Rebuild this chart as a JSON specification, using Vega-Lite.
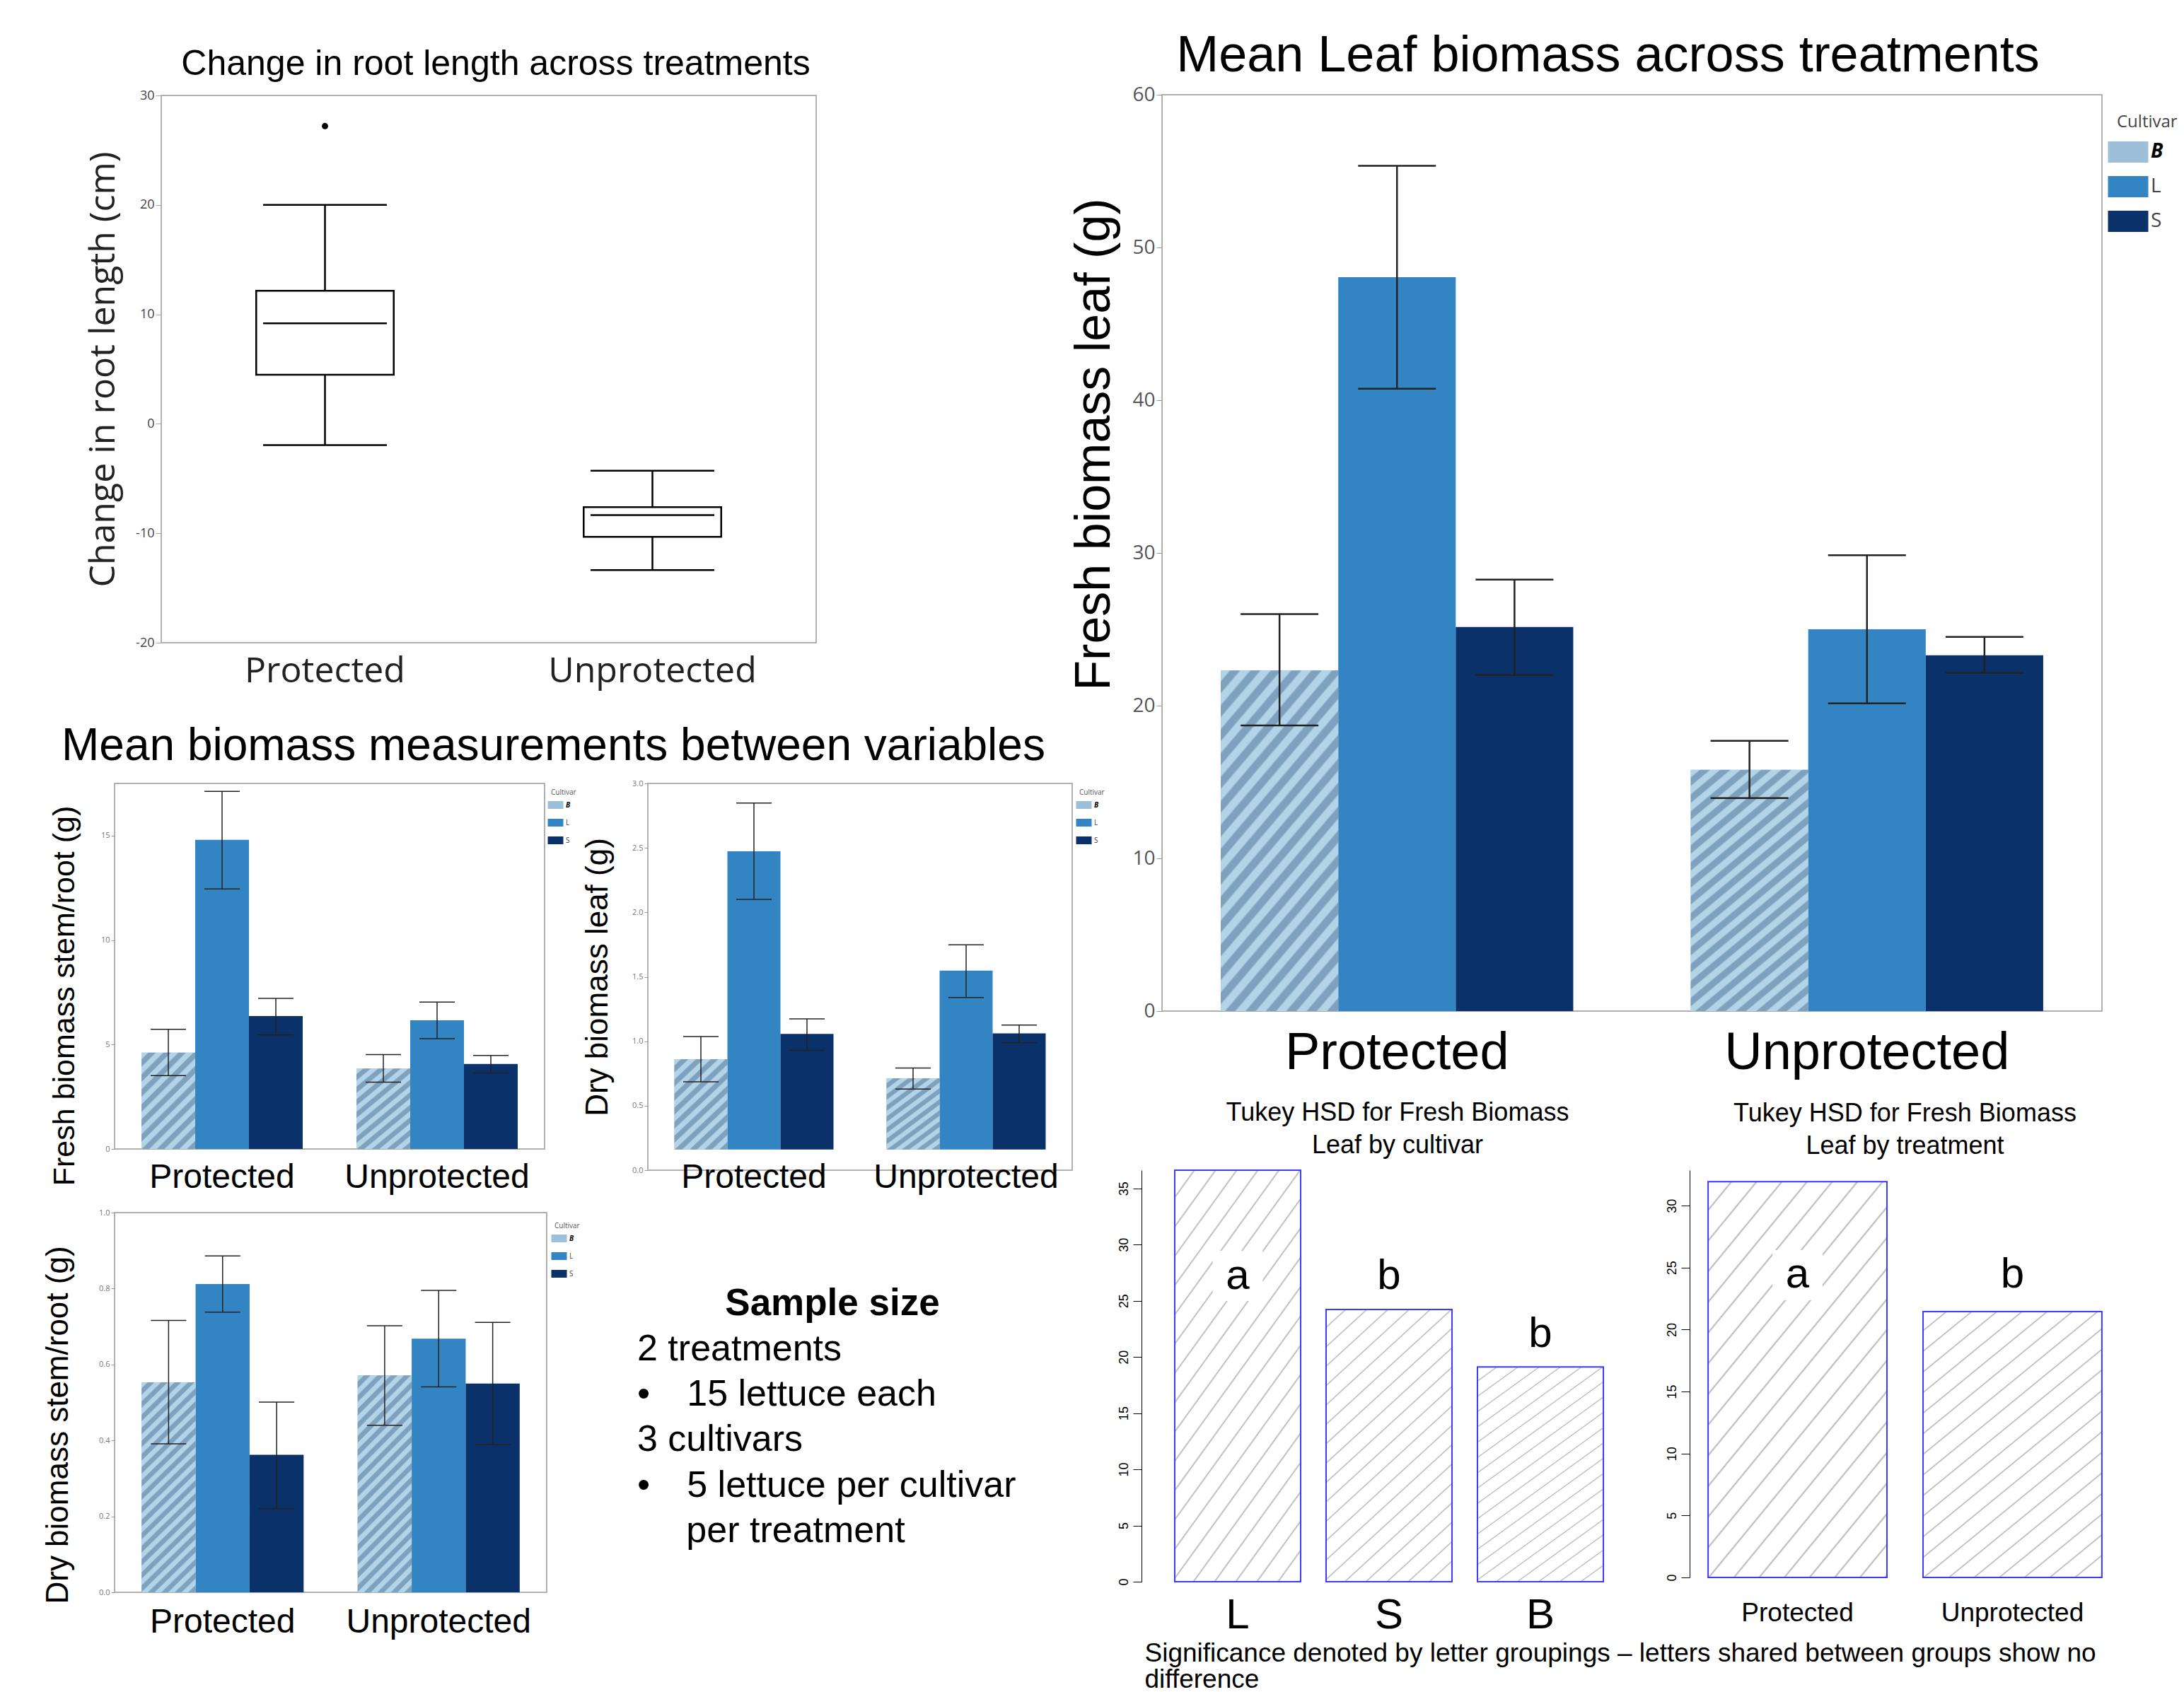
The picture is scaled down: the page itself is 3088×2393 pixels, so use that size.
{
"$schema": "https://vega.github.io/schema/vega-lite/v6.json",
"background": "white",
"padding": {"left": 59, "top": 26, "right": 0, "bottom": 0},
"config": {
 "view": {"stroke": "#b0b0b0", "strokeWidth": 2},
 "font": "Liberation Sans",
 "axis": {"grid": false, "labelLimit": 1000, "labelFont": "Liberation Sans", "titleFont": "Liberation Sans", "titleFontWeight": "normal", "titleColor": "#000000", "tickColor": "#999999", "domainColor": "#999999", "labelColor": "#555555"},
 "title": {"fontWeight": "normal", "color": "#000000", "font": "Liberation Sans"},
 "legend": {"titleFontWeight": "normal"}
},
"datasets": {
 "box": [
  {"treatment": "Protected", "lower": -1.94, "q1": 4.49, "median": 9.19, "q3": 12.15, "upper": 20.0},
  {"treatment": "Unprotected", "lower": -13.36, "q1": -10.32, "median": -8.34, "q3": -7.61, "upper": -4.29}
 ],
 "boxout": [{"treatment": "Protected", "value": 27.2}],
 "leaf": [
  {"treatment": "Protected", "cultivar": "B", "mean": 22.3, "lo": 18.7, "hi": 26.0},
  {"treatment": "Protected", "cultivar": "L", "mean": 48.05, "lo": 40.75, "hi": 55.35},
  {"treatment": "Protected", "cultivar": "S", "mean": 25.15, "lo": 22.0, "hi": 28.25},
  {"treatment": "Unprotected", "cultivar": "B", "mean": 15.8, "lo": 13.95, "hi": 17.7},
  {"treatment": "Unprotected", "cultivar": "L", "mean": 25.0, "lo": 20.15, "hi": 29.85},
  {"treatment": "Unprotected", "cultivar": "S", "mean": 23.3, "lo": 22.15, "hi": 24.5}
 ],
 "fsr": [
  {"treatment": "Protected", "cultivar": "B", "mean": 4.61, "lo": 3.51, "hi": 5.73},
  {"treatment": "Protected", "cultivar": "L", "mean": 14.8, "lo": 12.45, "hi": 17.12},
  {"treatment": "Protected", "cultivar": "S", "mean": 6.36, "lo": 5.47, "hi": 7.21},
  {"treatment": "Unprotected", "cultivar": "B", "mean": 3.85, "lo": 3.2, "hi": 4.52},
  {"treatment": "Unprotected", "cultivar": "L", "mean": 6.16, "lo": 5.28, "hi": 7.03},
  {"treatment": "Unprotected", "cultivar": "S", "mean": 4.07, "lo": 3.64, "hi": 4.48}
 ],
 "dl": [
  {"treatment": "Protected", "cultivar": "B", "mean": 0.861, "lo": 0.685, "hi": 1.037},
  {"treatment": "Protected", "cultivar": "L", "mean": 2.474, "lo": 2.1, "hi": 2.848},
  {"treatment": "Protected", "cultivar": "S", "mean": 1.057, "lo": 0.93, "hi": 1.174},
  {"treatment": "Unprotected", "cultivar": "B", "mean": 0.713, "lo": 0.63, "hi": 0.793},
  {"treatment": "Unprotected", "cultivar": "L", "mean": 1.548, "lo": 1.339, "hi": 1.748},
  {"treatment": "Unprotected", "cultivar": "S", "mean": 1.061, "lo": 0.989, "hi": 1.126}
 ],
 "dsr": [
  {"treatment": "Protected", "cultivar": "B", "mean": 0.553, "lo": 0.391, "hi": 0.716},
  {"treatment": "Protected", "cultivar": "L", "mean": 0.812, "lo": 0.738, "hi": 0.886},
  {"treatment": "Protected", "cultivar": "S", "mean": 0.362, "lo": 0.22, "hi": 0.501},
  {"treatment": "Unprotected", "cultivar": "B", "mean": 0.571, "lo": 0.44, "hi": 0.702},
  {"treatment": "Unprotected", "cultivar": "L", "mean": 0.668, "lo": 0.541, "hi": 0.795},
  {"treatment": "Unprotected", "cultivar": "S", "mean": 0.55, "lo": 0.389, "hi": 0.711}
 ],
 "tukey1": [
  {"cultivar": "L", "mean": 36.62, "letter": "a", "letterY": 27.2},
  {"cultivar": "S", "mean": 24.23, "letter": "b", "letterY": 27.2},
  {"cultivar": "B", "mean": 19.12, "letter": "b", "letterY": 22.0}
 ],
 "tukey2": [
  {"treatment": "Protected", "mean": 31.94, "letter": "a", "letterY": 24.4},
  {"treatment": "Unprotected", "mean": 21.45, "letter": "b", "letterY": 24.4}
 ],
 "sample": [
  {"line": 0, "text": "Sample size"},
  {"line": 1, "text": "2 treatments"},
  {"line": 2, "text": "\u2022\u200315 lettuce each"},
  {"line": 3, "text": "3 cultivars"},
  {"line": 4, "text": "\u2022\u20035 lettuce per cultivar"},
  {"line": 5, "text": "\u200b\u2003\u2004per treatment"}
 ],
 "empty": []
},
"columns": 2,
"align": "none",
"spacing": {"column": -52, "row": 0},
"resolve": {"scale": {"color": "independent", "xOffset": "independent"}, "legend": {"color": "independent"}},
"concat": [
 {
  "spacing": -93,
  "resolve": {"scale": {"color": "independent", "xOffset": "independent"}, "legend": {"color": "independent"}},
  "vconcat": [
   {"width": 1, "height": 1, "view": {"stroke": null}, "data": {"name": "empty"}, "mark": "point"},
   {
  "spacing": 48,
  "resolve": {"scale": {"color": "independent", "xOffset": "independent"}, "legend": {"color": "independent"}},
  "vconcat": [
   {
    "bounds": "flush",
    "spacing": 0,
    "hconcat": [
     {"width": 66, "height": 20, "view": {"stroke": null}, "data": {"name": "empty"}, "mark": "point"},
     {
      "width": 926, "height": 774,
      "title": {"text": "Change in root length across treatments", "fontSize": 50, "frame": "group", "anchor": "middle", "dx": 10, "offset": 10},
      "encoding": {"x": {"field": "treatment", "type": "nominal", "scale": {"domain": ["Protected", "Unprotected"]}, "axis": {"title": null, "labelFont": "Open Sans", "labelFontSize": 50, "labelColor": "#222222", "labelAngle": 0, "ticks": false, "domain": false, "labelPadding": 15}}},
      "layer": [
       {"data": {"name": "box"}, "mark": {"type": "rule", "color": "#000000", "strokeWidth": 2.5},
        "encoding": {"y": {"field": "lower", "type": "quantitative", "scale": {"domain": [-20, 30], "nice": false}, "axis": {"title": "Change in root length (cm)", "titleFont": "Open Sans", "titleFontSize": 50, "titleColor": "#222222", "titlePadding": 20, "values": [-20, -10, 0, 10, 20, 30], "labelExpr": "replace(datum.label, '\u2212', '-')", "labelFont": "Open Sans", "labelFontSize": 18, "labelColor": "#444444", "tickSize": 8, "tickColor": "#aaaaaa", "domain": false}}, "y2": {"field": "upper"}}},
       {"data": {"name": "box"}, "mark": {"type": "bar", "width": {"band": 0.42}, "fill": "#ffffff", "stroke": "#000000", "strokeWidth": 2.5},
        "encoding": {"y": {"field": "q1", "type": "quantitative"}, "y2": {"field": "q3"}}},
       {"data": {"name": "box"}, "mark": {"type": "tick", "size": 175, "thickness": 2.5, "color": "#000000", "opacity": 1},
        "encoding": {"y": {"field": "median", "type": "quantitative"}}},
       {"data": {"name": "box"}, "mark": {"type": "tick", "size": 175, "thickness": 2.5, "color": "#000000", "opacity": 1},
        "encoding": {"y": {"field": "lower", "type": "quantitative"}}},
       {"data": {"name": "box"}, "mark": {"type": "tick", "size": 175, "thickness": 2.5, "color": "#000000", "opacity": 1},
        "encoding": {"y": {"field": "upper", "type": "quantitative"}}},
       {"data": {"name": "boxout"}, "mark": {"type": "circle", "size": 80, "color": "#000000", "opacity": 1},
        "encoding": {"y": {"field": "value", "type": "quantitative"}}}
      ]
     }
    ]
   },
   {
    "spacing": 18,
    "resolve": {"scale": {"color": "independent", "xOffset": "independent"}, "legend": {"color": "independent"}},
    "vconcat": [
     {
      "bounds": "flush",
      "spacing": 146,
      "resolve": {"scale": {"color": "independent", "xOffset": "independent"}, "legend": {"color": "independent"}},
      "hconcat": [
       {
        "width": 608, "height": 517,
        "title": {"text": "Mean biomass measurements between variables", "fontSize": 64, "frame": "group", "anchor": "start", "dx": -75, "offset": 20},
        "data": {"name": "fsr"},
        "encoding": {
         "x": {"field": "treatment", "type": "nominal", "scale": {"paddingInner": 0.25, "paddingOuter": 0.125}, "axis": {"title": null, "labelFontSize": 48, "labelColor": "#000000", "labelAngle": 0, "ticks": false, "domain": false, "labelPadding": 16}},
         "xOffset": {"field": "cultivar", "type": "nominal", "scale": {"domain": ["B", "L", "S"]}}
        },
        "layer": [
         {"mark": {"type": "bar"}, "encoding": {
          "y": {"field": "mean", "type": "quantitative", "scale": {"domain": [0, 17.5], "nice": false}, "axis": {"title": "Fresh biomass stem/root (g)", "titleFontSize": 43, "titlePadding": 29, "titleY": 300, "values": [0, 5, 10, 15], "labelFont": "Open Sans", "labelFontSize": 11, "labelColor": "#777777", "tickSize": 5, "domain": false}},
          "color": {"field": "cultivar", "type": "nominal", "scale": {"domain": ["B", "L", "S"], "range": ["#9dbfd9", "#3384c3", "#0b316b"]},
           "legend": {"orient": "none", "legendX": 617, "legendY": 8, "title": "Cultivar", "titleFont": "Open Sans", "titleFontSize": 10, "titleColor": "#555555", "titlePadding": 6, "labelFont": "Open Sans", "labelFontSize": 10, "labelColor": "#444444", "symbolType": "M-2,-1H2V1H-2Z", "symbolSize": 121, "labelOffset": 8, "rowPadding": 8, "padding": 0,
            "encode": {"symbols": {"update": {"fill": [{"test": "datum.value === 'B'", "value": {"gradient": "linear", "x1": 0, "y1": 0, "x2": 1.2, "y2": 0.6, "stops": [{"offset": 0, "color": "#b3d3e9"}, {"offset": 0.133, "color": "#b3d3e9"}, {"offset": 0.167, "color": "#7ea1be"}, {"offset": 0.3, "color": "#7ea1be"}, {"offset": 0.333, "color": "#b3d3e9"}, {"offset": 0.467, "color": "#b3d3e9"}, {"offset": 0.5, "color": "#7ea1be"}, {"offset": 0.633, "color": "#7ea1be"}, {"offset": 0.667, "color": "#b3d3e9"}, {"offset": 0.8, "color": "#b3d3e9"}, {"offset": 0.833, "color": "#7ea1be"}, {"offset": 0.967, "color": "#7ea1be"}, {"offset": 1, "color": "#b3d3e9"}]}}, {"test": "datum.value === 'L'", "value": "#3384c3"}, {"value": "#0b316b"}], "opacity": {"value": 1}}},
             "labels": {"update": {"fontWeight": [{"test": "datum.value === 'B'", "value": "bold"}, {"value": "normal"}], "fontStyle": [{"test": "datum.value === 'B'", "value": "italic"}, {"value": "normal"}], "fill": [{"test": "datum.value === 'B'", "value": "#000000"}, {"value": "#444444"}]}}}}}}},
         {"transform": [{"filter": "datum.cultivar === 'B'"}], "mark": {"type": "bar", "fill": {"gradient": "linear", "x1": 0, "y1": 0, "x2": 0.66, "y2": 1.189, "stops": [{"offset": 0, "color": "#b3d3e9"}, {"offset": 0.04, "color": "#b3d3e9"}, {"offset": 0.05, "color": "#7ea1be"}, {"offset": 0.09, "color": "#7ea1be"}, {"offset": 0.1, "color": "#b3d3e9"}, {"offset": 0.14, "color": "#b3d3e9"}, {"offset": 0.15, "color": "#7ea1be"}, {"offset": 0.19, "color": "#7ea1be"}, {"offset": 0.2, "color": "#b3d3e9"}, {"offset": 0.24, "color": "#b3d3e9"}, {"offset": 0.25, "color": "#7ea1be"}, {"offset": 0.29, "color": "#7ea1be"}, {"offset": 0.3, "color": "#b3d3e9"}, {"offset": 0.34, "color": "#b3d3e9"}, {"offset": 0.35, "color": "#7ea1be"}, {"offset": 0.39, "color": "#7ea1be"}, {"offset": 0.4, "color": "#b3d3e9"}, {"offset": 0.44, "color": "#b3d3e9"}, {"offset": 0.45, "color": "#7ea1be"}, {"offset": 0.49, "color": "#7ea1be"}, {"offset": 0.5, "color": "#b3d3e9"}, {"offset": 0.54, "color": "#b3d3e9"}, {"offset": 0.55, "color": "#7ea1be"}, {"offset": 0.59, "color": "#7ea1be"}, {"offset": 0.6, "color": "#b3d3e9"}, {"offset": 0.64, "color": "#b3d3e9"}, {"offset": 0.65, "color": "#7ea1be"}, {"offset": 0.69, "color": "#7ea1be"}, {"offset": 0.7, "color": "#b3d3e9"}, {"offset": 0.74, "color": "#b3d3e9"}, {"offset": 0.75, "color": "#7ea1be"}, {"offset": 0.79, "color": "#7ea1be"}, {"offset": 0.8, "color": "#b3d3e9"}, {"offset": 0.84, "color": "#b3d3e9"}, {"offset": 0.85, "color": "#7ea1be"}, {"offset": 0.89, "color": "#7ea1be"}, {"offset": 0.9, "color": "#b3d3e9"}, {"offset": 0.94, "color": "#b3d3e9"}, {"offset": 0.95, "color": "#7ea1be"}, {"offset": 0.99, "color": "#7ea1be"}, {"offset": 1, "color": "#b3d3e9"}]}},
          "encoding": {"y": {"field": "mean", "type": "quantitative"}}},
         {"mark": {"type": "rule", "color": "#222222", "strokeWidth": 1.5}, "encoding": {"y": {"field": "lo", "type": "quantitative"}, "y2": {"field": "hi"}}},
         {"mark": {"type": "tick", "size": 50, "thickness": 1.5, "color": "#222222", "opacity": 1}, "encoding": {"y": {"field": "lo", "type": "quantitative"}}},
         {"mark": {"type": "tick", "size": 50, "thickness": 1.5, "color": "#222222", "opacity": 1}, "encoding": {"y": {"field": "hi", "type": "quantitative"}}}
        ]
       },
       {
        "width": 600, "height": 547,
        "data": {"name": "dl"},
        "encoding": {
         "x": {"field": "treatment", "type": "nominal", "scale": {"paddingInner": 0.25, "paddingOuter": 0.125}, "axis": {"title": null, "labelFontSize": 48, "labelColor": "#000000", "labelAngle": 0, "ticks": false, "domain": false, "labelPadding": -14}},
         "xOffset": {"field": "cultivar", "type": "nominal", "scale": {"domain": ["B", "L", "S"]}}
        },
        "layer": [
         {"mark": {"type": "bar"}, "encoding": {
          "y": {"field": "mean", "type": "quantitative", "scale": {"domain": [0, 3], "nice": false}, "axis": {"title": "Dry biomass leaf (g)", "titleFontSize": 44, "titlePadding": 26, "values": [0, 0.5, 1, 1.5, 2, 2.5, 3], "format": ".1f", "labelFont": "Open Sans", "labelFontSize": 11, "labelColor": "#777777", "tickSize": 5, "domain": false}},
          "y2": {"datum": 0.16},
          "color": {"field": "cultivar", "type": "nominal", "scale": {"domain": ["B", "L", "S"], "range": ["#9dbfd9", "#3384c3", "#0b316b"]},
           "legend": {"orient": "none", "legendX": 610, "legendY": 8, "title": "Cultivar", "titleFont": "Open Sans", "titleFontSize": 10, "titleColor": "#555555", "titlePadding": 6, "labelFont": "Open Sans", "labelFontSize": 10, "labelColor": "#444444", "symbolType": "M-2,-1H2V1H-2Z", "symbolSize": 121, "labelOffset": 8, "rowPadding": 8, "padding": 0,
            "encode": {"symbols": {"update": {"fill": [{"test": "datum.value === 'B'", "value": {"gradient": "linear", "x1": 0, "y1": 0, "x2": 1.2, "y2": 0.6, "stops": [{"offset": 0, "color": "#b3d3e9"}, {"offset": 0.133, "color": "#b3d3e9"}, {"offset": 0.167, "color": "#7ea1be"}, {"offset": 0.3, "color": "#7ea1be"}, {"offset": 0.333, "color": "#b3d3e9"}, {"offset": 0.467, "color": "#b3d3e9"}, {"offset": 0.5, "color": "#7ea1be"}, {"offset": 0.633, "color": "#7ea1be"}, {"offset": 0.667, "color": "#b3d3e9"}, {"offset": 0.8, "color": "#b3d3e9"}, {"offset": 0.833, "color": "#7ea1be"}, {"offset": 0.967, "color": "#7ea1be"}, {"offset": 1, "color": "#b3d3e9"}]}}, {"test": "datum.value === 'L'", "value": "#3384c3"}, {"value": "#0b316b"}], "opacity": {"value": 1}}},
             "labels": {"update": {"fontWeight": [{"test": "datum.value === 'B'", "value": "bold"}, {"value": "normal"}], "fontStyle": [{"test": "datum.value === 'B'", "value": "italic"}, {"value": "normal"}], "fill": [{"test": "datum.value === 'B'", "value": "#000000"}, {"value": "#444444"}]}}}}}}},
         {"transform": [{"filter": "datum.cultivar === 'B'"}], "mark": {"type": "bar", "fill": {"gradient": "linear", "x1": 0, "y1": 0, "x2": 0.66, "y2": 1.189, "stops": [{"offset": 0, "color": "#b3d3e9"}, {"offset": 0.04, "color": "#b3d3e9"}, {"offset": 0.05, "color": "#7ea1be"}, {"offset": 0.09, "color": "#7ea1be"}, {"offset": 0.1, "color": "#b3d3e9"}, {"offset": 0.14, "color": "#b3d3e9"}, {"offset": 0.15, "color": "#7ea1be"}, {"offset": 0.19, "color": "#7ea1be"}, {"offset": 0.2, "color": "#b3d3e9"}, {"offset": 0.24, "color": "#b3d3e9"}, {"offset": 0.25, "color": "#7ea1be"}, {"offset": 0.29, "color": "#7ea1be"}, {"offset": 0.3, "color": "#b3d3e9"}, {"offset": 0.34, "color": "#b3d3e9"}, {"offset": 0.35, "color": "#7ea1be"}, {"offset": 0.39, "color": "#7ea1be"}, {"offset": 0.4, "color": "#b3d3e9"}, {"offset": 0.44, "color": "#b3d3e9"}, {"offset": 0.45, "color": "#7ea1be"}, {"offset": 0.49, "color": "#7ea1be"}, {"offset": 0.5, "color": "#b3d3e9"}, {"offset": 0.54, "color": "#b3d3e9"}, {"offset": 0.55, "color": "#7ea1be"}, {"offset": 0.59, "color": "#7ea1be"}, {"offset": 0.6, "color": "#b3d3e9"}, {"offset": 0.64, "color": "#b3d3e9"}, {"offset": 0.65, "color": "#7ea1be"}, {"offset": 0.69, "color": "#7ea1be"}, {"offset": 0.7, "color": "#b3d3e9"}, {"offset": 0.74, "color": "#b3d3e9"}, {"offset": 0.75, "color": "#7ea1be"}, {"offset": 0.79, "color": "#7ea1be"}, {"offset": 0.8, "color": "#b3d3e9"}, {"offset": 0.84, "color": "#b3d3e9"}, {"offset": 0.85, "color": "#7ea1be"}, {"offset": 0.89, "color": "#7ea1be"}, {"offset": 0.9, "color": "#b3d3e9"}, {"offset": 0.94, "color": "#b3d3e9"}, {"offset": 0.95, "color": "#7ea1be"}, {"offset": 0.99, "color": "#7ea1be"}, {"offset": 1, "color": "#b3d3e9"}]}},
          "encoding": {"y": {"field": "mean", "type": "quantitative"}, "y2": {"datum": 0.16}}},
         {"mark": {"type": "rule", "color": "#222222", "strokeWidth": 1.5}, "encoding": {"y": {"field": "lo", "type": "quantitative"}, "y2": {"field": "hi"}}},
         {"mark": {"type": "tick", "size": 50, "thickness": 1.5, "color": "#222222", "opacity": 1}, "encoding": {"y": {"field": "lo", "type": "quantitative"}}},
         {"mark": {"type": "tick", "size": 50, "thickness": 1.5, "color": "#222222", "opacity": 1}, "encoding": {"y": {"field": "hi", "type": "quantitative"}}}
        ]
       }
      ]
     },
     {
      "bounds": "flush",
      "spacing": 128,
      "resolve": {"scale": {"color": "independent", "xOffset": "independent"}, "legend": {"color": "independent"}},
      "hconcat": [
       {
        "width": 611, "height": 537,
        "data": {"name": "dsr"},
        "encoding": {
         "x": {"field": "treatment", "type": "nominal", "scale": {"paddingInner": 0.25, "paddingOuter": 0.125}, "axis": {"title": null, "labelFontSize": 48, "labelColor": "#000000", "labelAngle": 0, "ticks": false, "domain": false, "labelPadding": 18}},
         "xOffset": {"field": "cultivar", "type": "nominal", "scale": {"domain": ["B", "L", "S"]}}
        },
        "layer": [
         {"mark": {"type": "bar"}, "encoding": {
          "y": {"field": "mean", "type": "quantitative", "scale": {"domain": [0, 1], "nice": false}, "axis": {"title": "Dry biomass stem/root (g)", "titleFontSize": 44, "titlePadding": 35, "titleY": 300, "values": [0, 0.2, 0.4, 0.6, 0.8, 1], "format": ".1f", "labelFont": "Open Sans", "labelFontSize": 11, "labelColor": "#777777", "tickSize": 5, "domain": false}},
          "color": {"field": "cultivar", "type": "nominal", "scale": {"domain": ["B", "L", "S"], "range": ["#9dbfd9", "#3384c3", "#0b316b"]},
           "legend": {"orient": "none", "legendX": 622, "legendY": 14, "title": "Cultivar", "titleFont": "Open Sans", "titleFontSize": 10, "titleColor": "#555555", "titlePadding": 6, "labelFont": "Open Sans", "labelFontSize": 10, "labelColor": "#444444", "symbolType": "M-2,-1H2V1H-2Z", "symbolSize": 121, "labelOffset": 8, "rowPadding": 8, "padding": 0,
            "encode": {"symbols": {"update": {"fill": [{"test": "datum.value === 'B'", "value": {"gradient": "linear", "x1": 0, "y1": 0, "x2": 1.2, "y2": 0.6, "stops": [{"offset": 0, "color": "#b3d3e9"}, {"offset": 0.133, "color": "#b3d3e9"}, {"offset": 0.167, "color": "#7ea1be"}, {"offset": 0.3, "color": "#7ea1be"}, {"offset": 0.333, "color": "#b3d3e9"}, {"offset": 0.467, "color": "#b3d3e9"}, {"offset": 0.5, "color": "#7ea1be"}, {"offset": 0.633, "color": "#7ea1be"}, {"offset": 0.667, "color": "#b3d3e9"}, {"offset": 0.8, "color": "#b3d3e9"}, {"offset": 0.833, "color": "#7ea1be"}, {"offset": 0.967, "color": "#7ea1be"}, {"offset": 1, "color": "#b3d3e9"}]}}, {"test": "datum.value === 'L'", "value": "#3384c3"}, {"value": "#0b316b"}], "opacity": {"value": 1}}},
             "labels": {"update": {"fontWeight": [{"test": "datum.value === 'B'", "value": "bold"}, {"value": "normal"}], "fontStyle": [{"test": "datum.value === 'B'", "value": "italic"}, {"value": "normal"}], "fill": [{"test": "datum.value === 'B'", "value": "#000000"}, {"value": "#444444"}]}}}}}}},
         {"transform": [{"filter": "datum.cultivar === 'B'"}], "mark": {"type": "bar", "fill": {"gradient": "linear", "x1": 0, "y1": 0, "x2": 0.2962, "y2": 1.1772, "stops": [{"offset": 0, "color": "#b3d3e9"}, {"offset": 0.02, "color": "#b3d3e9"}, {"offset": 0.025, "color": "#7ea1be"}, {"offset": 0.045, "color": "#7ea1be"}, {"offset": 0.05, "color": "#b3d3e9"}, {"offset": 0.07, "color": "#b3d3e9"}, {"offset": 0.075, "color": "#7ea1be"}, {"offset": 0.095, "color": "#7ea1be"}, {"offset": 0.1, "color": "#b3d3e9"}, {"offset": 0.12, "color": "#b3d3e9"}, {"offset": 0.125, "color": "#7ea1be"}, {"offset": 0.145, "color": "#7ea1be"}, {"offset": 0.15, "color": "#b3d3e9"}, {"offset": 0.17, "color": "#b3d3e9"}, {"offset": 0.175, "color": "#7ea1be"}, {"offset": 0.195, "color": "#7ea1be"}, {"offset": 0.2, "color": "#b3d3e9"}, {"offset": 0.22, "color": "#b3d3e9"}, {"offset": 0.225, "color": "#7ea1be"}, {"offset": 0.245, "color": "#7ea1be"}, {"offset": 0.25, "color": "#b3d3e9"}, {"offset": 0.27, "color": "#b3d3e9"}, {"offset": 0.275, "color": "#7ea1be"}, {"offset": 0.295, "color": "#7ea1be"}, {"offset": 0.3, "color": "#b3d3e9"}, {"offset": 0.32, "color": "#b3d3e9"}, {"offset": 0.325, "color": "#7ea1be"}, {"offset": 0.345, "color": "#7ea1be"}, {"offset": 0.35, "color": "#b3d3e9"}, {"offset": 0.37, "color": "#b3d3e9"}, {"offset": 0.375, "color": "#7ea1be"}, {"offset": 0.395, "color": "#7ea1be"}, {"offset": 0.4, "color": "#b3d3e9"}, {"offset": 0.42, "color": "#b3d3e9"}, {"offset": 0.425, "color": "#7ea1be"}, {"offset": 0.445, "color": "#7ea1be"}, {"offset": 0.45, "color": "#b3d3e9"}, {"offset": 0.47, "color": "#b3d3e9"}, {"offset": 0.475, "color": "#7ea1be"}, {"offset": 0.495, "color": "#7ea1be"}, {"offset": 0.5, "color": "#b3d3e9"}, {"offset": 0.52, "color": "#b3d3e9"}, {"offset": 0.525, "color": "#7ea1be"}, {"offset": 0.545, "color": "#7ea1be"}, {"offset": 0.55, "color": "#b3d3e9"}, {"offset": 0.57, "color": "#b3d3e9"}, {"offset": 0.575, "color": "#7ea1be"}, {"offset": 0.595, "color": "#7ea1be"}, {"offset": 0.6, "color": "#b3d3e9"}, {"offset": 0.62, "color": "#b3d3e9"}, {"offset": 0.625, "color": "#7ea1be"}, {"offset": 0.645, "color": "#7ea1be"}, {"offset": 0.65, "color": "#b3d3e9"}, {"offset": 0.67, "color": "#b3d3e9"}, {"offset": 0.675, "color": "#7ea1be"}, {"offset": 0.695, "color": "#7ea1be"}, {"offset": 0.7, "color": "#b3d3e9"}, {"offset": 0.72, "color": "#b3d3e9"}, {"offset": 0.725, "color": "#7ea1be"}, {"offset": 0.745, "color": "#7ea1be"}, {"offset": 0.75, "color": "#b3d3e9"}, {"offset": 0.77, "color": "#b3d3e9"}, {"offset": 0.775, "color": "#7ea1be"}, {"offset": 0.795, "color": "#7ea1be"}, {"offset": 0.8, "color": "#b3d3e9"}, {"offset": 0.82, "color": "#b3d3e9"}, {"offset": 0.825, "color": "#7ea1be"}, {"offset": 0.845, "color": "#7ea1be"}, {"offset": 0.85, "color": "#b3d3e9"}, {"offset": 0.87, "color": "#b3d3e9"}, {"offset": 0.875, "color": "#7ea1be"}, {"offset": 0.895, "color": "#7ea1be"}, {"offset": 0.9, "color": "#b3d3e9"}, {"offset": 0.92, "color": "#b3d3e9"}, {"offset": 0.925, "color": "#7ea1be"}, {"offset": 0.945, "color": "#7ea1be"}, {"offset": 0.95, "color": "#b3d3e9"}, {"offset": 0.97, "color": "#b3d3e9"}, {"offset": 0.975, "color": "#7ea1be"}, {"offset": 0.995, "color": "#7ea1be"}, {"offset": 1, "color": "#b3d3e9"}]}},
          "encoding": {"y": {"field": "mean", "type": "quantitative"}}},
         {"mark": {"type": "rule", "color": "#222222", "strokeWidth": 1.5}, "encoding": {"y": {"field": "lo", "type": "quantitative"}, "y2": {"field": "hi"}}},
         {"mark": {"type": "tick", "size": 50, "thickness": 1.5, "color": "#222222", "opacity": 1}, "encoding": {"y": {"field": "lo", "type": "quantitative"}}},
         {"mark": {"type": "tick", "size": 50, "thickness": 1.5, "color": "#222222", "opacity": 1}, "encoding": {"y": {"field": "hi", "type": "quantitative"}}}
        ]
       },
       {
        "width": 552, "height": 450,
        "view": {"stroke": null},
        "data": {"name": "sample"},
        "encoding": {"y": {"field": "line", "type": "ordinal", "scale": {"type": "point", "padding": 1, "align": 1}, "axis": null}},
        "layer": [
         {"transform": [{"filter": "datum.line === 0"}], "mark": {"type": "text", "fontSize": 53, "fontWeight": "bold", "align": "center", "baseline": "middle", "color": "#000000"},
          "encoding": {"x": {"datum": 0.5, "type": "quantitative", "scale": {"domain": [0, 1]}, "axis": null}, "text": {"field": "text"}}},
         {"transform": [{"filter": "datum.line > 0"}], "mark": {"type": "text", "fontSize": 52, "align": "left", "baseline": "middle", "color": "#000000"},
          "encoding": {"x": {"datum": 0, "type": "quantitative", "scale": {"domain": [0, 1]}, "axis": null}, "text": {"field": "text"}}}
        ]
       }
      ]
     }
    ]
   }
  ]
   }
  ]
 },
 {
  "spacing": 29,
  "resolve": {"scale": {"color": "independent", "xOffset": "independent"}, "legend": {"color": "independent"}},
  "vconcat": [
   {
    "width": 1329, "height": 1296,
    "title": {"text": ["", "Mean Leaf biomass across treatments"], "lineHeight": 16, "fontSize": 72, "frame": "group", "anchor": "middle", "dx": -34, "offset": 4},
    "data": {"name": "leaf"},
    "encoding": {
     "x": {"field": "treatment", "type": "nominal", "scale": {"paddingInner": 0.25, "paddingOuter": 0.125}, "axis": {"title": null, "labelFontSize": 74, "labelColor": "#000000", "labelAngle": 0, "ticks": false, "domain": false, "labelPadding": 23}},
     "xOffset": {"field": "cultivar", "type": "nominal", "scale": {"domain": ["B", "L", "S"]}}
    },
    "layer": [
     {"mark": {"type": "bar"}, "encoding": {
      "y": {"field": "mean", "type": "quantitative", "scale": {"domain": [0, 60], "nice": false}, "axis": {"title": "Fresh biomass leaf (g)", "titleFontSize": 70, "titlePadding": 17, "titleY": 494, "values": [0, 10, 20, 30, 40, 50, 60], "labelFont": "Open Sans", "labelFontSize": 28, "labelColor": "#555555", "tickSize": 8, "domain": false}},
      "color": {"field": "cultivar", "type": "nominal", "scale": {"domain": ["B", "L", "S"], "range": ["#9dbfd9", "#3384c3", "#0b316b"]},
       "legend": {"orient": "none", "legendX": 1350, "legendY": 27, "title": "Cultivar", "titleFont": "Open Sans", "titleFontSize": 24, "titleColor": "#444444", "titlePadding": 14, "labelFont": "Open Sans", "labelFontSize": 28, "labelColor": "#444444", "symbolType": "M-1.9,-1H1.9V1H-1.9Z", "symbolSize": 900, "labelOffset": 16, "rowPadding": 13, "padding": 0,
        "encode": {"symbols": {"update": {"fill": [{"test": "datum.value === 'B'", "value": {"gradient": "linear", "x1": 0, "y1": 0, "x2": 1.2, "y2": 0.6, "stops": [{"offset": 0, "color": "#b3d3e9"}, {"offset": 0.133, "color": "#b3d3e9"}, {"offset": 0.167, "color": "#7ea1be"}, {"offset": 0.3, "color": "#7ea1be"}, {"offset": 0.333, "color": "#b3d3e9"}, {"offset": 0.467, "color": "#b3d3e9"}, {"offset": 0.5, "color": "#7ea1be"}, {"offset": 0.633, "color": "#7ea1be"}, {"offset": 0.667, "color": "#b3d3e9"}, {"offset": 0.8, "color": "#b3d3e9"}, {"offset": 0.833, "color": "#7ea1be"}, {"offset": 0.967, "color": "#7ea1be"}, {"offset": 1, "color": "#b3d3e9"}]}}, {"test": "datum.value === 'L'", "value": "#3384c3"}, {"value": "#0b316b"}], "opacity": {"value": 1}}},
         "labels": {"update": {"fontWeight": [{"test": "datum.value === 'B'", "value": "bold"}, {"value": "normal"}], "fontStyle": [{"test": "datum.value === 'B'", "value": "italic"}, {"value": "normal"}], "fill": [{"test": "datum.value === 'B'", "value": "#000000"}, {"value": "#444444"}]}}}}}}},
     {"transform": [{"filter": "datum.cultivar === 'B'"}], "mark": {"type": "bar", "fill": {"gradient": "linear", "x1": 0, "y1": 0, "x2": 0.4887, "y2": 1.207, "stops": [{"offset": 0, "color": "#b3d3e9"}, {"offset": 0.02, "color": "#b3d3e9"}, {"offset": 0.025, "color": "#7ea1be"}, {"offset": 0.045, "color": "#7ea1be"}, {"offset": 0.05, "color": "#b3d3e9"}, {"offset": 0.07, "color": "#b3d3e9"}, {"offset": 0.075, "color": "#7ea1be"}, {"offset": 0.095, "color": "#7ea1be"}, {"offset": 0.1, "color": "#b3d3e9"}, {"offset": 0.12, "color": "#b3d3e9"}, {"offset": 0.125, "color": "#7ea1be"}, {"offset": 0.145, "color": "#7ea1be"}, {"offset": 0.15, "color": "#b3d3e9"}, {"offset": 0.17, "color": "#b3d3e9"}, {"offset": 0.175, "color": "#7ea1be"}, {"offset": 0.195, "color": "#7ea1be"}, {"offset": 0.2, "color": "#b3d3e9"}, {"offset": 0.22, "color": "#b3d3e9"}, {"offset": 0.225, "color": "#7ea1be"}, {"offset": 0.245, "color": "#7ea1be"}, {"offset": 0.25, "color": "#b3d3e9"}, {"offset": 0.27, "color": "#b3d3e9"}, {"offset": 0.275, "color": "#7ea1be"}, {"offset": 0.295, "color": "#7ea1be"}, {"offset": 0.3, "color": "#b3d3e9"}, {"offset": 0.32, "color": "#b3d3e9"}, {"offset": 0.325, "color": "#7ea1be"}, {"offset": 0.345, "color": "#7ea1be"}, {"offset": 0.35, "color": "#b3d3e9"}, {"offset": 0.37, "color": "#b3d3e9"}, {"offset": 0.375, "color": "#7ea1be"}, {"offset": 0.395, "color": "#7ea1be"}, {"offset": 0.4, "color": "#b3d3e9"}, {"offset": 0.42, "color": "#b3d3e9"}, {"offset": 0.425, "color": "#7ea1be"}, {"offset": 0.445, "color": "#7ea1be"}, {"offset": 0.45, "color": "#b3d3e9"}, {"offset": 0.47, "color": "#b3d3e9"}, {"offset": 0.475, "color": "#7ea1be"}, {"offset": 0.495, "color": "#7ea1be"}, {"offset": 0.5, "color": "#b3d3e9"}, {"offset": 0.52, "color": "#b3d3e9"}, {"offset": 0.525, "color": "#7ea1be"}, {"offset": 0.545, "color": "#7ea1be"}, {"offset": 0.55, "color": "#b3d3e9"}, {"offset": 0.57, "color": "#b3d3e9"}, {"offset": 0.575, "color": "#7ea1be"}, {"offset": 0.595, "color": "#7ea1be"}, {"offset": 0.6, "color": "#b3d3e9"}, {"offset": 0.62, "color": "#b3d3e9"}, {"offset": 0.625, "color": "#7ea1be"}, {"offset": 0.645, "color": "#7ea1be"}, {"offset": 0.65, "color": "#b3d3e9"}, {"offset": 0.67, "color": "#b3d3e9"}, {"offset": 0.675, "color": "#7ea1be"}, {"offset": 0.695, "color": "#7ea1be"}, {"offset": 0.7, "color": "#b3d3e9"}, {"offset": 0.72, "color": "#b3d3e9"}, {"offset": 0.725, "color": "#7ea1be"}, {"offset": 0.745, "color": "#7ea1be"}, {"offset": 0.75, "color": "#b3d3e9"}, {"offset": 0.77, "color": "#b3d3e9"}, {"offset": 0.775, "color": "#7ea1be"}, {"offset": 0.795, "color": "#7ea1be"}, {"offset": 0.8, "color": "#b3d3e9"}, {"offset": 0.82, "color": "#b3d3e9"}, {"offset": 0.825, "color": "#7ea1be"}, {"offset": 0.845, "color": "#7ea1be"}, {"offset": 0.85, "color": "#b3d3e9"}, {"offset": 0.87, "color": "#b3d3e9"}, {"offset": 0.875, "color": "#7ea1be"}, {"offset": 0.895, "color": "#7ea1be"}, {"offset": 0.9, "color": "#b3d3e9"}, {"offset": 0.92, "color": "#b3d3e9"}, {"offset": 0.925, "color": "#7ea1be"}, {"offset": 0.945, "color": "#7ea1be"}, {"offset": 0.95, "color": "#b3d3e9"}, {"offset": 0.97, "color": "#b3d3e9"}, {"offset": 0.975, "color": "#7ea1be"}, {"offset": 0.995, "color": "#7ea1be"}, {"offset": 1, "color": "#b3d3e9"}]}},
      "encoding": {"y": {"field": "mean", "type": "quantitative"}}},
     {"mark": {"type": "rule", "color": "#222222", "strokeWidth": 2.5}, "encoding": {"y": {"field": "lo", "type": "quantitative"}, "y2": {"field": "hi"}}},
     {"mark": {"type": "tick", "size": 110, "thickness": 2.5, "color": "#222222", "opacity": 1}, "encoding": {"y": {"field": "lo", "type": "quantitative"}}},
     {"mark": {"type": "tick", "size": 110, "thickness": 2.5, "color": "#222222", "opacity": 1}, "encoding": {"y": {"field": "hi", "type": "quantitative"}}}
    ]
   },
   {
    "bounds": "flush",
    "spacing": 114,
    "hconcat": [
     {
      "width": 642, "height": 582,
      "view": {"stroke": null},
      "title": {"text": ["Tukey HSD for Fresh Biomass", "Leaf by cultivar"], "fontSize": 36, "lineHeight": 46, "frame": "group", "anchor": "middle", "dx": 12, "offset": 15},
      "data": {"name": "tukey1"},
      "encoding": {"x": {"field": "cultivar", "type": "nominal", "sort": ["L", "S", "B"], "scale": {"paddingInner": 0.168, "paddingOuter": 0.084},
       "axis": {"title": ["Significance denoted by letter groupings \u2013 letters shared between groups show no", "difference"], "titleFontSize": 37, "titleAnchor": "start", "titleAlign": "left", "titleX": -25, "titleY": 83, "titleBaseline": "top", "titleLineHeight": 37, "labelFontSize": 60, "labelColor": "#000000", "labelAngle": 0, "ticks": false, "domain": false, "labelPadding": 18}}},
      "layer": [
       {"mark": {"type": "bar", "stroke": "#3b3bff", "strokeWidth": 2, "fill": {"gradient": "linear", "x1": 0, "y1": 0, "x2": 0.5116, "y2": 1.2071, "stops": [{"offset": 0, "color": "#ffffff"}, {"offset": 0.043, "color": "#ffffff"}, {"offset": 0.0465, "color": "#b4b4b4"}, {"offset": 0.05, "color": "#ffffff"}, {"offset": 0.093, "color": "#ffffff"}, {"offset": 0.0965, "color": "#b4b4b4"}, {"offset": 0.1, "color": "#ffffff"}, {"offset": 0.143, "color": "#ffffff"}, {"offset": 0.1465, "color": "#b4b4b4"}, {"offset": 0.15, "color": "#ffffff"}, {"offset": 0.193, "color": "#ffffff"}, {"offset": 0.1965, "color": "#b4b4b4"}, {"offset": 0.2, "color": "#ffffff"}, {"offset": 0.243, "color": "#ffffff"}, {"offset": 0.2465, "color": "#b4b4b4"}, {"offset": 0.25, "color": "#ffffff"}, {"offset": 0.293, "color": "#ffffff"}, {"offset": 0.2965, "color": "#b4b4b4"}, {"offset": 0.3, "color": "#ffffff"}, {"offset": 0.343, "color": "#ffffff"}, {"offset": 0.3465, "color": "#b4b4b4"}, {"offset": 0.35, "color": "#ffffff"}, {"offset": 0.393, "color": "#ffffff"}, {"offset": 0.3965, "color": "#b4b4b4"}, {"offset": 0.4, "color": "#ffffff"}, {"offset": 0.443, "color": "#ffffff"}, {"offset": 0.4465, "color": "#b4b4b4"}, {"offset": 0.45, "color": "#ffffff"}, {"offset": 0.493, "color": "#ffffff"}, {"offset": 0.4965, "color": "#b4b4b4"}, {"offset": 0.5, "color": "#ffffff"}, {"offset": 0.543, "color": "#ffffff"}, {"offset": 0.5465, "color": "#b4b4b4"}, {"offset": 0.55, "color": "#ffffff"}, {"offset": 0.593, "color": "#ffffff"}, {"offset": 0.5965, "color": "#b4b4b4"}, {"offset": 0.6, "color": "#ffffff"}, {"offset": 0.643, "color": "#ffffff"}, {"offset": 0.6465, "color": "#b4b4b4"}, {"offset": 0.65, "color": "#ffffff"}, {"offset": 0.693, "color": "#ffffff"}, {"offset": 0.6965, "color": "#b4b4b4"}, {"offset": 0.7, "color": "#ffffff"}, {"offset": 0.743, "color": "#ffffff"}, {"offset": 0.7465, "color": "#b4b4b4"}, {"offset": 0.75, "color": "#ffffff"}, {"offset": 0.793, "color": "#ffffff"}, {"offset": 0.7965, "color": "#b4b4b4"}, {"offset": 0.8, "color": "#ffffff"}, {"offset": 0.843, "color": "#ffffff"}, {"offset": 0.8465, "color": "#b4b4b4"}, {"offset": 0.85, "color": "#ffffff"}, {"offset": 0.893, "color": "#ffffff"}, {"offset": 0.8965, "color": "#b4b4b4"}, {"offset": 0.9, "color": "#ffffff"}, {"offset": 0.943, "color": "#ffffff"}, {"offset": 0.9465, "color": "#b4b4b4"}, {"offset": 0.95, "color": "#ffffff"}, {"offset": 0.993, "color": "#ffffff"}, {"offset": 0.9965, "color": "#b4b4b4"}, {"offset": 1, "color": "#ffffff"}]}},
        "encoding": {"y": {"field": "mean", "type": "quantitative", "scale": {"domain": [0, 36.62], "nice": false}, "axis": {"title": null, "offset": 29, "values": [0, 5, 10, 15, 20, 25, 30, 35], "labelAngle": 270, "labelFontSize": 18, "labelColor": "#000000", "tickColor": "#000000", "tickSize": 12, "domainColor": "#000000", "labelPadding": 4}}}},
       {"mark": {"type": "square", "size": 5000, "color": "#ffffff", "opacity": 1, "filled": true}, "encoding": {"y": {"field": "letterY", "type": "quantitative"}}},
       {"mark": {"type": "text", "fontSize": 60, "baseline": "middle", "color": "#000000"}, "encoding": {"y": {"field": "letterY", "type": "quantitative"}, "text": {"field": "letter"}}}
      ]
     },
     {
      "width": 589, "height": 576,
      "view": {"stroke": null},
      "title": {"text": ["Tukey HSD for Fresh Biomass", "Leaf by treatment"], "fontSize": 36, "lineHeight": 46, "frame": "group", "anchor": "middle", "offset": 15},
      "data": {"name": "tukey2"},
      "encoding": {"x": {"field": "treatment", "type": "nominal", "sort": ["Protected", "Unprotected"], "scale": {"paddingInner": 0.168, "paddingOuter": 0.053},
       "axis": {"title": null, "labelFontSize": 37, "labelColor": "#000000", "labelAngle": 0, "ticks": false, "domain": false, "labelPadding": 32}}},
      "layer": [
       {"mark": {"type": "bar", "stroke": "#3b3bff", "strokeWidth": 2, "fill": {"gradient": "linear", "x1": 0, "y1": 0, "x2": 0.6545, "y2": 1.19, "stops": [{"offset": 0, "color": "#ffffff"}, {"offset": 0.043, "color": "#ffffff"}, {"offset": 0.0465, "color": "#b4b4b4"}, {"offset": 0.05, "color": "#ffffff"}, {"offset": 0.093, "color": "#ffffff"}, {"offset": 0.0965, "color": "#b4b4b4"}, {"offset": 0.1, "color": "#ffffff"}, {"offset": 0.143, "color": "#ffffff"}, {"offset": 0.1465, "color": "#b4b4b4"}, {"offset": 0.15, "color": "#ffffff"}, {"offset": 0.193, "color": "#ffffff"}, {"offset": 0.1965, "color": "#b4b4b4"}, {"offset": 0.2, "color": "#ffffff"}, {"offset": 0.243, "color": "#ffffff"}, {"offset": 0.2465, "color": "#b4b4b4"}, {"offset": 0.25, "color": "#ffffff"}, {"offset": 0.293, "color": "#ffffff"}, {"offset": 0.2965, "color": "#b4b4b4"}, {"offset": 0.3, "color": "#ffffff"}, {"offset": 0.343, "color": "#ffffff"}, {"offset": 0.3465, "color": "#b4b4b4"}, {"offset": 0.35, "color": "#ffffff"}, {"offset": 0.393, "color": "#ffffff"}, {"offset": 0.3965, "color": "#b4b4b4"}, {"offset": 0.4, "color": "#ffffff"}, {"offset": 0.443, "color": "#ffffff"}, {"offset": 0.4465, "color": "#b4b4b4"}, {"offset": 0.45, "color": "#ffffff"}, {"offset": 0.493, "color": "#ffffff"}, {"offset": 0.4965, "color": "#b4b4b4"}, {"offset": 0.5, "color": "#ffffff"}, {"offset": 0.543, "color": "#ffffff"}, {"offset": 0.5465, "color": "#b4b4b4"}, {"offset": 0.55, "color": "#ffffff"}, {"offset": 0.593, "color": "#ffffff"}, {"offset": 0.5965, "color": "#b4b4b4"}, {"offset": 0.6, "color": "#ffffff"}, {"offset": 0.643, "color": "#ffffff"}, {"offset": 0.6465, "color": "#b4b4b4"}, {"offset": 0.65, "color": "#ffffff"}, {"offset": 0.693, "color": "#ffffff"}, {"offset": 0.6965, "color": "#b4b4b4"}, {"offset": 0.7, "color": "#ffffff"}, {"offset": 0.743, "color": "#ffffff"}, {"offset": 0.7465, "color": "#b4b4b4"}, {"offset": 0.75, "color": "#ffffff"}, {"offset": 0.793, "color": "#ffffff"}, {"offset": 0.7965, "color": "#b4b4b4"}, {"offset": 0.8, "color": "#ffffff"}, {"offset": 0.843, "color": "#ffffff"}, {"offset": 0.8465, "color": "#b4b4b4"}, {"offset": 0.85, "color": "#ffffff"}, {"offset": 0.893, "color": "#ffffff"}, {"offset": 0.8965, "color": "#b4b4b4"}, {"offset": 0.9, "color": "#ffffff"}, {"offset": 0.943, "color": "#ffffff"}, {"offset": 0.9465, "color": "#b4b4b4"}, {"offset": 0.95, "color": "#ffffff"}, {"offset": 0.993, "color": "#ffffff"}, {"offset": 0.9965, "color": "#b4b4b4"}, {"offset": 1, "color": "#ffffff"}]}},
        "encoding": {"y": {"field": "mean", "type": "quantitative", "scale": {"domain": [0, 32.86], "nice": false}, "axis": {"title": null, "offset": 10, "values": [0, 5, 10, 15, 20, 25, 30], "labelAngle": 270, "labelFontSize": 18, "labelColor": "#000000", "tickColor": "#000000", "tickSize": 12, "domainColor": "#000000", "labelPadding": 4}}}},
       {"mark": {"type": "square", "size": 5000, "color": "#ffffff", "opacity": 1, "filled": true}, "encoding": {"y": {"field": "letterY", "type": "quantitative"}}},
       {"mark": {"type": "text", "fontSize": 60, "baseline": "middle", "color": "#000000"}, "encoding": {"y": {"field": "letterY", "type": "quantitative"}, "text": {"field": "letter"}}}
      ]
     }
    ]
   }
  ]
 }
]
}
